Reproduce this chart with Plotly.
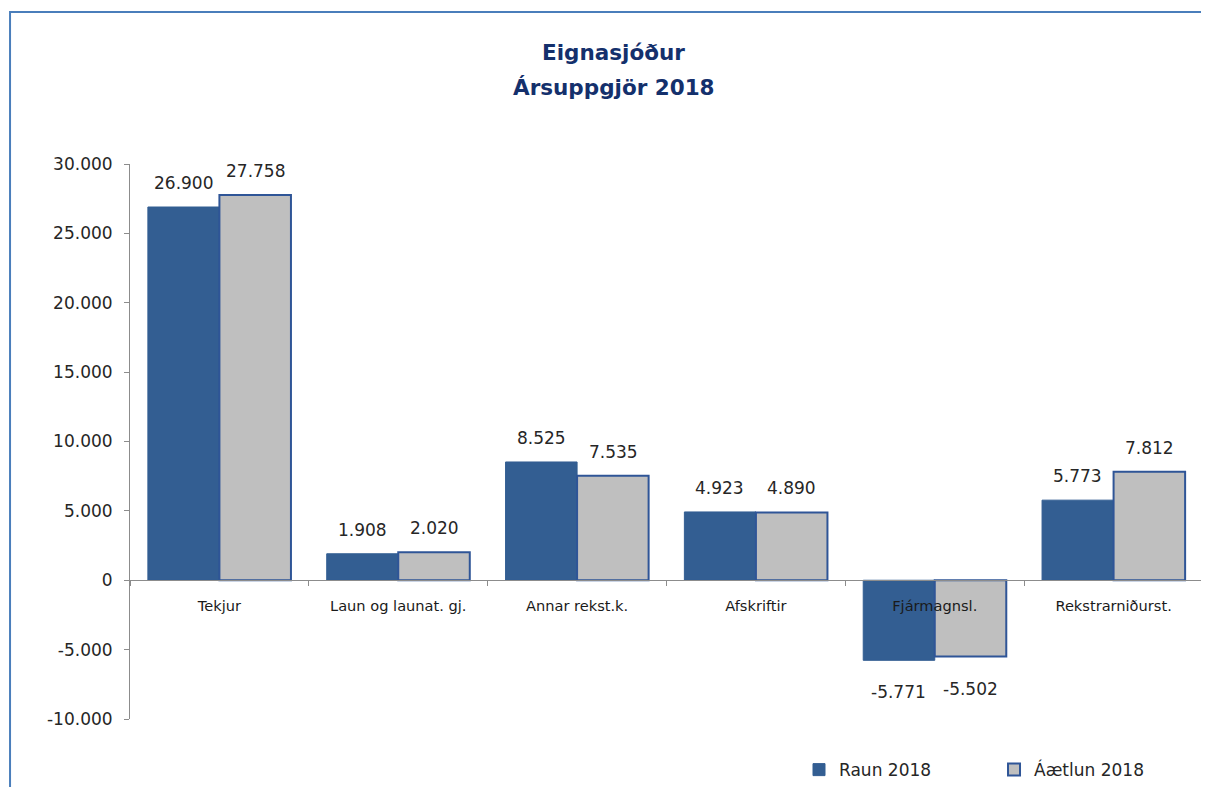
import plotly.graph_objects as go

# Data
###########################################################################
categories = ["Tekjur", "Laun og launat. gj.", "Annar rekst.k.", "Afskriftir", "Fjármagnsl.", "Rekstrarniðurst."]
raun_2018 = [26900, 1908, 8525, 4923, -5771, 5773]
aaetlun_2018 = [27758, 2020, 7535, 4890, -5502, 7812]
y_tickvals = [-10000, -5000, 0, 5000, 10000, 15000, 20000, 25000, 30000]
y_ticktext = ["-10.000", "-5.000", "0", "5.000", "10.000", "15.000", "20.000", "25.000", "30.000"]

BLUE = "#335E92"
GRAY = "#BFBFBF"
NAVY = "#14306C"
FONT = "DejaVu Sans"
TXT = "#262626"


def fmt(v):
    return f"{v:,}".replace(",", ".")


fig = go.Figure()
fig.add_trace(go.Bar(x=categories, y=raun_2018, name="Raun 2018",
                     marker=dict(color=BLUE, line=dict(color=BLUE, width=1))))
fig.add_trace(go.Bar(x=categories, y=aaetlun_2018, name="Áætlun 2018",
                     marker=dict(color=GRAY, line=dict(color="#2F5597", width=2))))

# data labels, Excel style
annotations = []
for vals, shift in [(raun_2018, -36), (aaetlun_2018, 36)]:
    for cat, v in zip(categories, vals):
        annotations.append(dict(
            x=cat, y=v, xref="x", yref="y", text=fmt(v), showarrow=False,
            xshift=shift, yshift=12 if v >= 0 else -20,
            yanchor="bottom" if v >= 0 else "top",
            font=dict(family=FONT, size=17, color=TXT)))

# two-line title
for line, ypos in [("Eignasjóður", 1.2018), ("Ársuppgjör 2018", 1.1387)]:
    annotations.append(dict(
        text="<b>" + line + "</b>", xref="paper", yref="paper", x=0.451, y=ypos,
        xanchor="center", yanchor="middle", showarrow=False,
        font=dict(family=FONT, size=21.5, color=NAVY)))

# page body adds 8px, so the figure is 8px smaller than the window
fig.update_layout(
    width=1201, height=779,
    margin=dict(l=122, r=6, t=156, b=68, autoexpand=False),
    paper_bgcolor="white", plot_bgcolor="white",
    font=dict(family=FONT, color=TXT),
    barmode="group", bargap=0.2, bargroupgap=0,
    showlegend=True,
    legend=dict(orientation="h", x=0.6235, xanchor="left", y=-0.092, yanchor="middle",
                entrywidth=150, entrywidthmode="pixels", itemwidth=30,
                font=dict(family=FONT, size=17, color=TXT), bgcolor="rgba(0,0,0,0)"),
    annotations=annotations,
    shapes=[dict(type="rect", xref="paper", yref="paper", x0=-0.1118, x1=1.2, y0=-1, y1=1.2739,
                 line=dict(color="#4A7EBB", width=2), layer="below")],
)

fig.update_yaxes(range=[-10000, 30000], tickvals=y_tickvals, ticktext=y_ticktext,
                 showgrid=False, zeroline=False, showline=True, linecolor="#8C8C8C", linewidth=1,
                 ticks="outside", ticklen=5, tickcolor="#8C8C8C", ticklabelstandoff=8,
                 tickfont=dict(family=FONT, size=17, color=TXT))
fig.update_xaxes(anchor="free", position=0.25, showgrid=False, showline=True,
                 linecolor="#8C8C8C", linewidth=1, ticks="outside", ticklen=5,
                 tickcolor="#8C8C8C", tickson="boundaries", ticklabelstandoff=12,
                 tickfont=dict(family=FONT, size=14.6, color="#1A1A1A"))

fig.write_html("out.html")
